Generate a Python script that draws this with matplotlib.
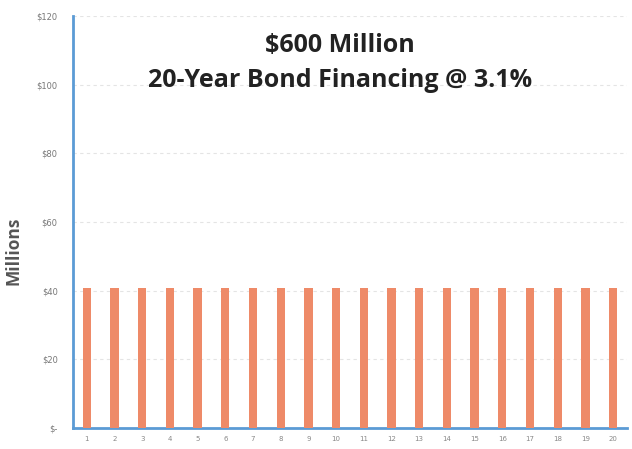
import matplotlib
matplotlib.use("Agg")
import matplotlib.pyplot as plt

years = list(range(1, 21))
payments = [40.7] * 20
yticks = [0, 20, 40, 60, 80, 100, 120]
ytick_labels = ["$-", "$20", "$40", "$60", "$80", "$100", "$120"]
title_lines = ["$600 Million", "20-Year Bond Financing @ 3.1%"]

fig = plt.figure(figsize=(6.32, 4.49), dpi=100)
ax = fig.add_axes([0.1155, 0.0468, 0.8765, 0.917])

ax.bar(years, payments, width=0.3, color="#ee8a68", zorder=3)
ax.set_xlim(0.5, 20.5)
ax.set_ylim(0, 120)
ax.set_yticks(yticks)
ax.set_yticklabels(ytick_labels)
ax.set_xticks(years)
ax.set_xticklabels([str(y) for y in years])
ax.tick_params(axis="y", labelsize=6, colors="#777777", length=0, pad=11)
ax.tick_params(axis="x", labelsize=5, colors="#888888", length=0, pad=6)
ax.yaxis.grid(True, color="#e4e4e4", linestyle=(0, (3, 3)), linewidth=0.8, zorder=0)

for s in ["top", "right"]:
    ax.spines[s].set_visible(False)
for s in ["left", "bottom"]:
    ax.spines[s].set_color("#5b9bd5")
    ax.spines[s].set_linewidth(2)

ax.set_ylabel("Millions", fontsize=12.5, fontweight="bold", color="#555555", family="Open Sans")
ax.yaxis.set_label_coords(-0.092, 0.43)

fig.text(0.538, 0.898, title_lines[0], ha="center", va="center", fontsize=18, fontweight="bold", color="#222222", family="Open Sans")
fig.text(0.538, 0.82, title_lines[1], ha="center", va="center", fontsize=18, fontweight="bold", color="#222222", family="Open Sans")

fig.savefig("out.png", dpi=100)
